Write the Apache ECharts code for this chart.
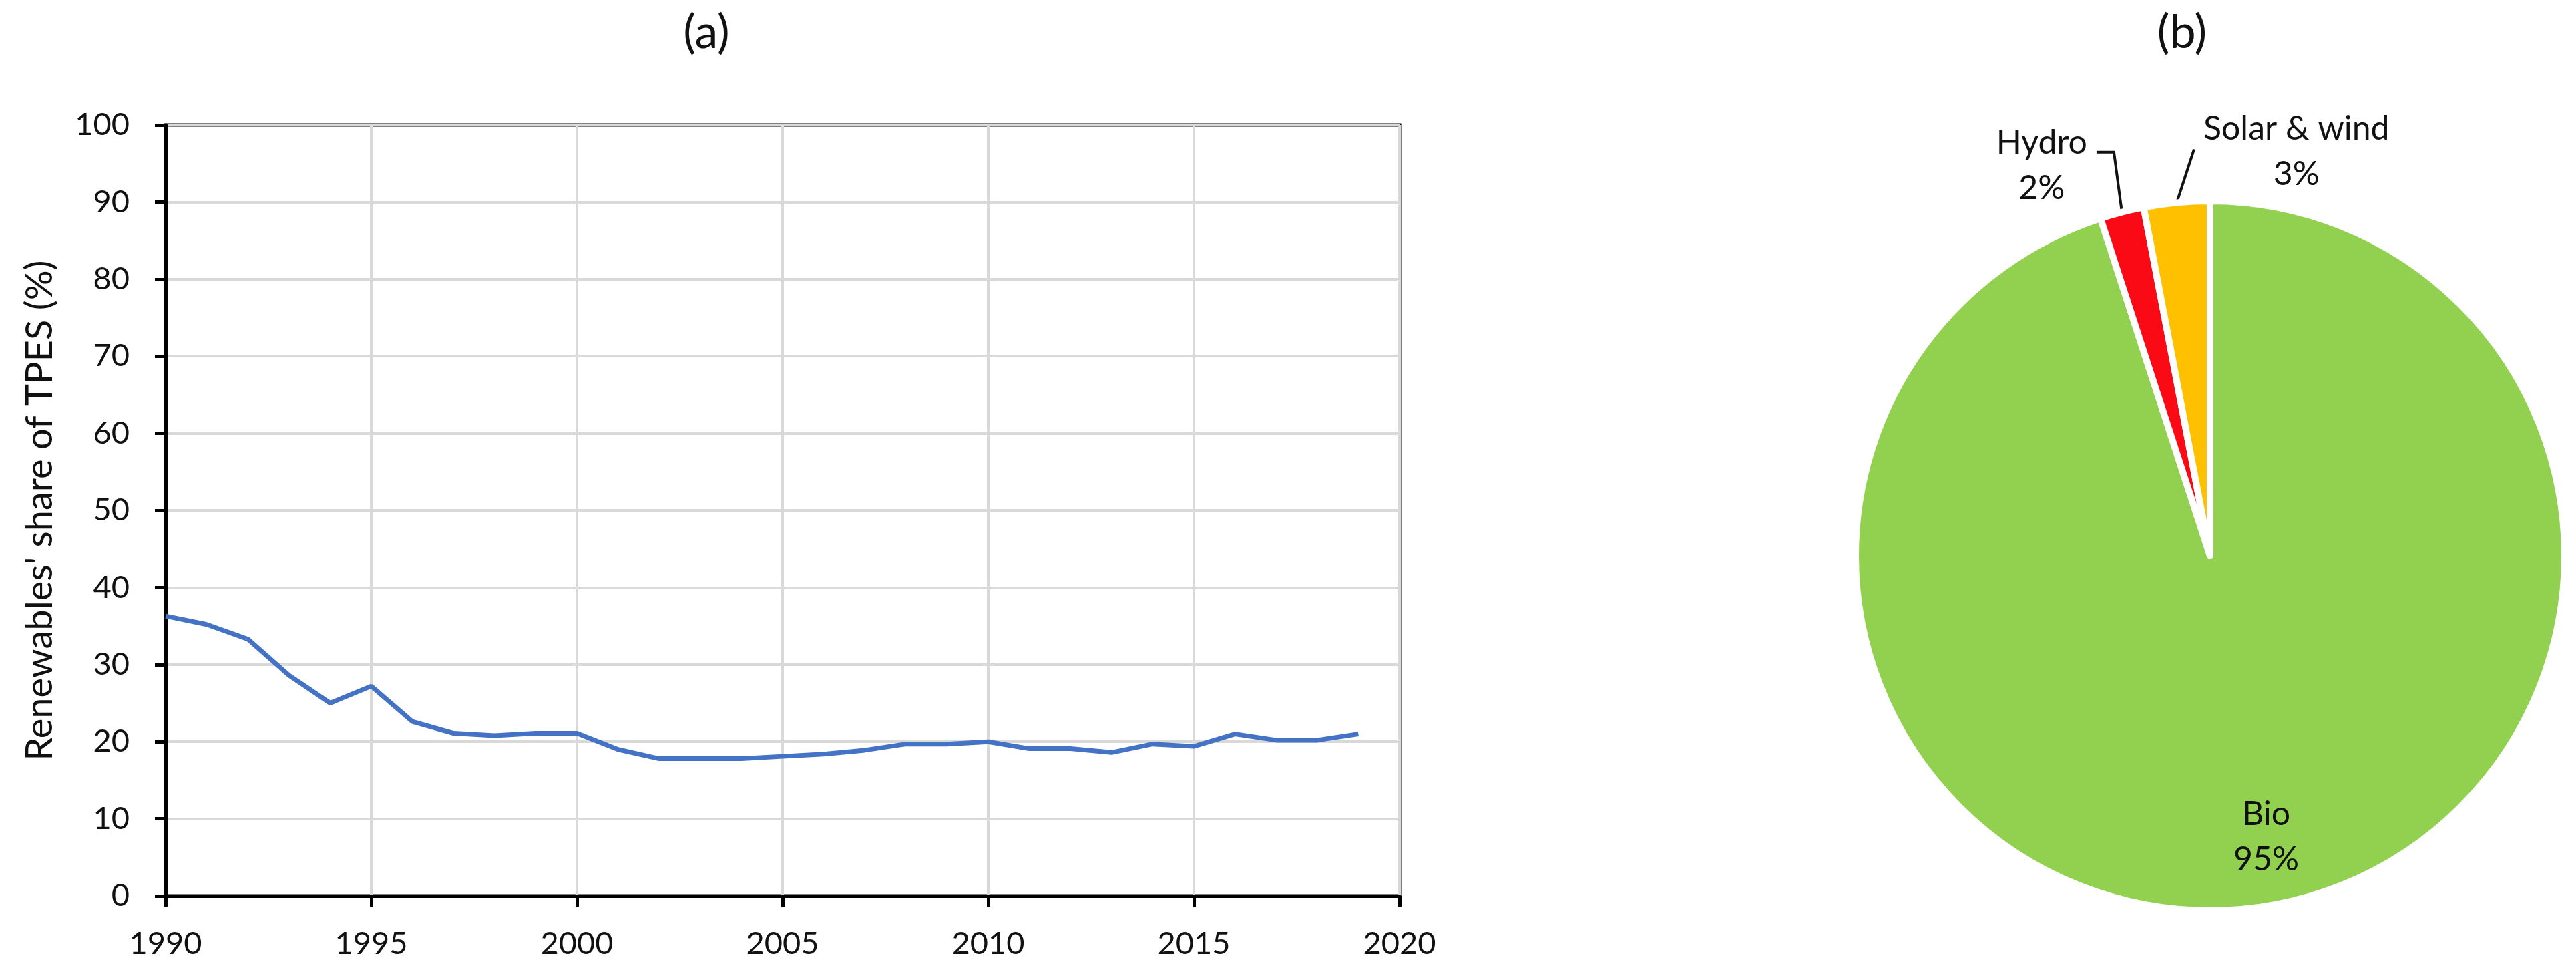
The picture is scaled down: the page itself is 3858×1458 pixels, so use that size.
<!DOCTYPE html>
<html>
<head>
<meta charset="utf-8">
<script src="https://cdn.jsdelivr.net/npm/echarts@6/dist/echarts.min.js"></script>
<style>
  html, body { margin: 0; padding: 0; background: #fff; }
  #chart { width: 3858px; height: 1458px; }
</style>
</head>
<body>
<div id="chart"></div>
<script>
// (a) renewables' share of TPES, 1990-2019
const years = [1990, 1991, 1992, 1993, 1994, 1995, 1996, 1997, 1998, 1999,
  2000, 2001, 2002, 2003, 2004, 2005, 2006, 2007, 2008, 2009,
  2010, 2011, 2012, 2013, 2014, 2015, 2016, 2017, 2018, 2019]
const shares = [36.3, 35.2, 33.3, 28.6, 25.0, 27.2, 22.6, 21.1, 20.8, 21.1,
  21.1, 19.0, 17.8, 17.8, 17.8, 18.1, 18.4, 18.9, 19.7, 19.7,
  20.0, 19.1, 19.1, 18.6, 19.7, 19.4, 21.0, 20.2, 20.2, 21.0]

// (b) renewables mix
const sources = ['Bio', 'Hydro', 'Solar & wind']
const mix = [95, 2, 3]
const mixColors = ['#92D050', '#FA0A14', '#FFC000']

const font = 'Lato'
const chart = echarts.init(document.getElementById('chart'))

chart.setOption({
  animation: false,
  textStyle: { fontFamily: font, color: '#111' },
  title: [
    { text: '(a)', left: 1058, top: 14, textAlign: 'center', padding: 0,
      textStyle: { fontFamily: font, fontSize: 70, fontWeight: 'normal', color: '#111' } },
    { text: '(b)', left: 3268, top: 14, textAlign: 'center', padding: 0,
      textStyle: { fontFamily: font, fontSize: 70, fontWeight: 'normal', color: '#111' } }
  ],
  grid: {
    left: 248, right: 1762, top: 187, bottom: 117,
    show: true, borderColor: '#000', borderWidth: 5
  },
  xAxis: {
    type: 'value', min: 1990, max: 2020, interval: 5,
    axisLine: { show: true, lineStyle: { color: '#000', width: 5 } },
    axisTick: { show: true, length: 16, lineStyle: { color: '#000', width: 5 } },
    axisLabel: { fontSize: 47, color: '#111', margin: 48, formatter: (v) => String(v) },
    splitLine: { show: true, lineStyle: { color: '#D9D9D9', width: 4 } }
  },
  yAxis: {
    type: 'value', min: 0, max: 100, interval: 10,
    name: "Renewables' share of TPES (%)",
    nameLocation: 'middle', nameGap: 160,
    nameTextStyle: { fontSize: 56, color: '#111' },
    axisLine: { show: true, lineStyle: { color: '#000', width: 5 } },
    axisTick: { show: true, length: 16, lineStyle: { color: '#000', width: 5 } },
    axisLabel: { fontSize: 47, color: '#111', margin: 54 },
    splitLine: { show: true, lineStyle: { color: '#D9D9D9', width: 4 } }
  },
  series: [
    {
      type: 'line',
      data: years.map((y, i) => [y, shares[i]]),
      showSymbol: false,
      lineStyle: { color: '#4472C4', width: 7 },
      z: 5
    },
    {
      type: 'pie',
      center: [3310, 832],
      radius: 531,
      startAngle: 90,
      clockwise: true,
      avoidLabelOverlap: false,
      itemStyle: { borderColor: '#fff', borderWidth: 10 },
      label: {
        show: true,
        position: 'outside',
        fontFamily: font,
        fontSize: 50,
        lineHeight: 68,
        color: '#111',
        align: 'center',
        formatter: (p) => p.name + '\n' + Math.round(p.percent) + '%'
      },
      labelLine: { show: true, length: 90, length2: 26, lineStyle: { color: '#111', width: 4 } },
      labelLayout: function (p) {
        const r = p.labelRect
        if (p.dataIndex === 0) {
          // inside label, pushed out towards the rim
          return { x: r.x + r.width / 2 + 42, y: r.y + r.height / 2 + 156, align: 'center', verticalAlign: 'middle' }
        }
        const p0 = p.labelLinePoints[0]
        if (p.dataIndex === 1) {
          const p1 = [p0[0] - 12, p0[1] - 90]
          const p2 = [p1[0] - 26, p1[1]]
          return {
            x: p2[0] - 14 - r.width / 2, y: p1[1] + 20,
            align: 'center', verticalAlign: 'middle',
            labelLinePoints: [p0, p1, p2]
          }
        }
        const p1 = [p0[0] + 26, p0[1] - 80]
        return {
          x: p1[0] + 14 + r.width / 2, y: p1[1] + 4,
          align: 'center', verticalAlign: 'middle',
          labelLinePoints: [p0, p1, p1]
        }
      },
      data: sources.map((s, i) => ({
        name: s,
        value: mix[i],
        itemStyle: { color: mixColors[i] },
        label: i === 0 ? { position: 'inside' } : {}
      }))
    }
  ]
})
</script>
</body>
</html>
